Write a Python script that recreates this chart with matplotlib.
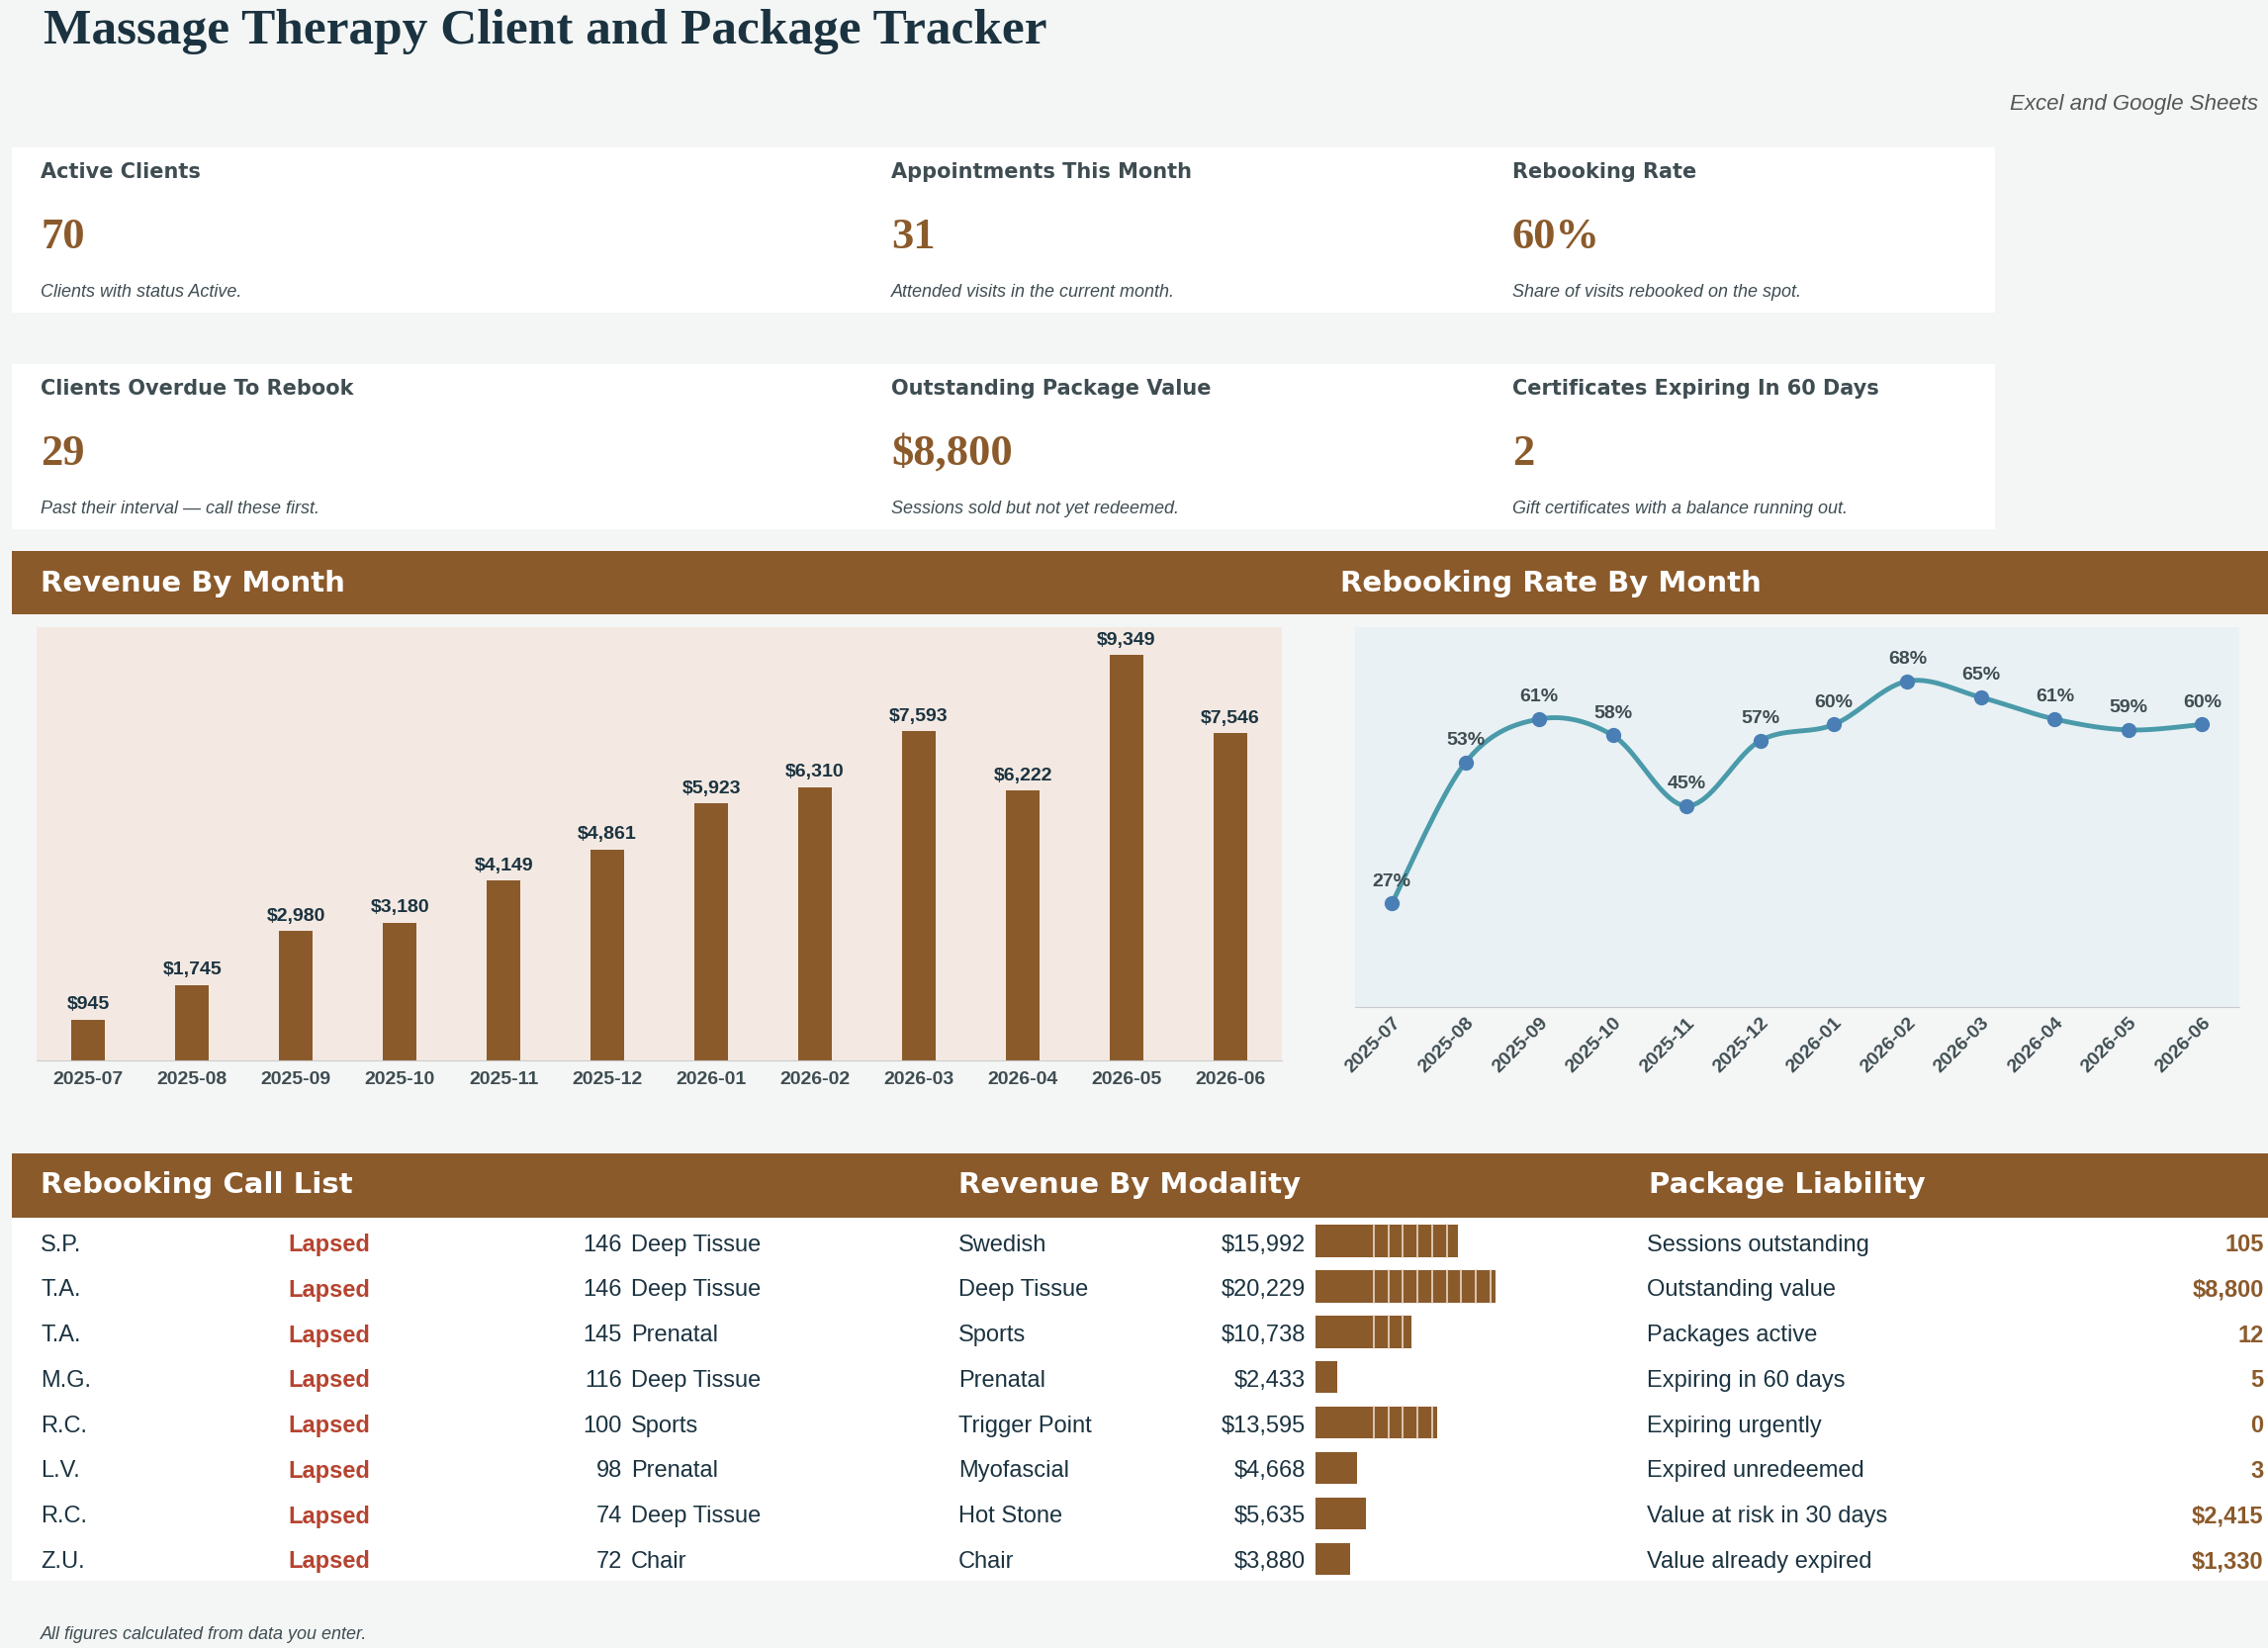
import matplotlib
matplotlib.use("Agg")
import matplotlib.pyplot as plt
from matplotlib.patches import Rectangle
import numpy as np

months = ["2025-07","2025-08","2025-09","2025-10","2025-11","2025-12","2026-01","2026-02","2026-03","2026-04","2026-05","2026-06"]
revenue = [945,1745,2980,3180,4149,4861,5923,6310,7593,6222,9349,7546]
rebook_rate = [27,53,61,58,45,57,60,68,65,61,59,60]

kpi_labels = ["Active Clients","Appointments This Month","Rebooking Rate",
              "Clients Overdue To Rebook","Outstanding Package Value","Certificates Expiring In 60 Days"]
kpi_values = ["70","31","60%","29","$8,800","2"]
kpi_descs = ["Clients with status Active.","Attended visits in the current month.","Share of visits rebooked on the spot.",
             "Past their interval \u2014 call these first.","Sessions sold but not yet redeemed.","Gift certificates with a balance running out."]

call_initials = ["S.P.","T.A.","T.A.","M.G.","R.C.","L.V.","R.C.","Z.U."]
call_status = ["Lapsed"]*8
call_days = [146,146,145,116,100,98,74,72]
call_modality = ["Deep Tissue","Deep Tissue","Prenatal","Deep Tissue","Sports","Prenatal","Deep Tissue","Chair"]

modalities = ["Swedish","Deep Tissue","Sports","Prenatal","Trigger Point","Myofascial","Hot Stone","Chair"]
modality_rev = [15992,20229,10738,2433,13595,4668,5635,3880]

liab_labels = ["Sessions outstanding","Outstanding value","Packages active","Expiring in 60 days",
               "Expiring urgently","Expired unredeemed","Value at risk in 30 days","Value already expired"]
liab_values = ["105","$8,800","12","5","0","3","$2,415","$1,330"]

BROWN = "#8b5a2b"; DARK = "#1b3340"; GRAY = "#3f4d52"; RED = "#b5432f"; BG = "#f4f6f5"
W, H = 1560.0, 1133.0
fig = plt.figure(figsize=(22.93, 16.66), dpi=100)
fig.patch.set_facecolor(BG)
def fx(x): return x / W
def fy(y): return 1 - y / H
def rect(x0, y0, x1, y1, c):
    fig.add_artist(Rectangle((fx(x0), fy(y1)), fx(x1) - fx(x0), fy(y0) - fy(y1), transform=fig.transFigure, color=c, lw=0, zorder=0))
def txt(x, y, s, **kw):
    kw.setdefault("va", "center")
    fig.text(fx(x), fy(y), s, **kw)

serif = ["Liberation Serif", "DejaVu Serif"]
sans = ["Liberation Sans", "DejaVu Sans"]
txt(30, 22, "Massage Therapy Client and Package Tracker", family=serif, weight="bold", size=37, color=DARK)
txt(1553, 72, "Excel and Google Sheets", family=sans, style="italic", size=16, color="#555", ha="right")

# KPI
rect(8, 101, 1372, 215, "white"); rect(8, 250, 1372, 364, "white")
kx = [28, 613, 1040]
for i in range(6):
    r, c = divmod(i, 3)
    oy = r * 149
    txt(kx[c], 118 + oy, kpi_labels[i], family=["DejaVu Sans"], weight="bold", size=15, color=GRAY)
    txt(kx[c], 163 + oy, kpi_values[i], family=serif, weight="bold", size=32, color=BROWN)
    txt(kx[c], 201 + oy, kpi_descs[i], family=sans, style="italic", size=13, color=GRAY)

# chart headers
rect(8, 379, 1560, 422, BROWN)
txt(28, 401, "Revenue By Month", family=["DejaVu Sans"], weight="bold", size=21, color="white")
txt(922, 401, "Rebooking Rate By Month", family=["DejaVu Sans"], weight="bold", size=21, color="white")

# bar chart
ax = fig.add_axes([fx(25), fy(729), fx(882) - fx(25), fy(431) - fy(729)])
ax.set_facecolor("#f3e9e2")
x = np.arange(len(months))
ax.bar(x, revenue, width=0.32, color=BROWN)
for xi, v in zip(x, revenue):
    ax.text(xi, v + 150, f"${v:,}", ha="center", va="bottom", family=sans, weight="bold", size=14, color=DARK)
ax.set_ylim(0, 9349 * 1.07); ax.set_xlim(-0.5, 11.5)
ax.set_yticks([]); ax.set_xticks(x); ax.set_xticklabels(months, family=sans, weight="bold", size=14, color=GRAY)
ax.tick_params(axis="x", length=0, pad=8)
for s in ["top", "left", "right"]: ax.spines[s].set_visible(False)
ax.spines["bottom"].set_color("#cccccc")

# line chart
ax2 = fig.add_axes([fx(932), fy(692), fx(1540) - fx(932), fy(431) - fy(692)])
ax2.set_facecolor("#e9f1f4")
y = np.array(rebook_rate, float)
# Catmull-Rom smoothing through the data points
pts = np.column_stack([x, y])
P = np.vstack([pts[0], pts, pts[-1]])
xs, ys = [], []
for i in range(1, len(P) - 2):
    p0, p1, p2, p3 = P[i-1], P[i], P[i+1], P[i+2]
    for t in np.linspace(0, 1, 20):
        q = 0.5 * ((2*p1) + (-p0+p2)*t + (2*p0-5*p1+4*p2-p3)*t**2 + (-p0+3*p1-3*p2+p3)*t**3)
        xs.append(q[0]); ys.append(q[1])
ax2.plot(xs, ys, color="#4a9aaa", lw=3.5)
ax2.plot(x, y, "o", color="#4a7fb5", ms=10)
for xi, v in zip(x, y):
    ax2.text(xi, v + 2.5, f"{int(v)}%", ha="center", va="bottom", family=sans, weight="bold", size=14, color=GRAY)
ax2.set_xlim(-0.5, 11.5); ax2.set_ylim(8, 78)
ax2.set_yticks([]); ax2.set_xticks(x)
ax2.set_xticklabels(months, rotation=45, ha="right", rotation_mode="anchor", family=sans, weight="bold", size=14, color=GRAY)
ax2.tick_params(axis="x", length=0, pad=6)
for s in ["top", "left", "right"]: ax2.spines[s].set_visible(False)
ax2.spines["bottom"].set_color("#cccccc")

# bottom tables
rect(8, 793, 1560, 837, BROWN)
rect(8, 837, 1560, 1087, "white")
txt(28, 815, "Rebooking Call List", family=["DejaVu Sans"], weight="bold", size=21, color="white")
txt(659, 815, "Revenue By Modality", family=["DejaVu Sans"], weight="bold", size=21, color="white")
txt(1134, 815, "Package Liability", family=["DejaVu Sans"], weight="bold", size=21, color="white")
rows = [856 + 31.1 * i for i in range(8)]
fs = 17
for i, ry in enumerate(rows):
    txt(28, ry, call_initials[i], family=sans, size=fs, color=DARK)
    txt(198, ry, call_status[i], family=sans, size=fs, weight="bold", color=RED)
    txt(428, ry, str(call_days[i]), family=sans, size=fs, color=DARK, ha="right")
    txt(434, ry, call_modality[i], family=sans, size=fs, color=DARK)
    txt(659, ry, modalities[i], family=sans, size=fs, color=DARK)
    txt(898, ry, f"${modality_rev[i]:,}", family=sans, size=fs, color=DARK, ha="right")
    txt(1133, ry, liab_labels[i], family=sans, size=fs, color=DARK)
    txt(1557, ry, liab_values[i], family=sans, size=fs, weight="bold", color=BROWN, ha="right")

ax3 = fig.add_axes([fx(905), fy(1090), fx(1105) - fx(905), fy(840) - fy(1090)])
ax3.set_axis_off()
ax3.set_xlim(0, 20229 * 200 / 124); ax3.set_ylim(8 * 31.1 + 3, 3)
yb = [r - 840 for r in rows]
ax3.barh(yb, modality_rev, height=22, color=BROWN)
seg0, seg = 20229 * 40 / 124, 20229 * 10 / 124
for v, yy in zip(modality_rev, yb):
    p = seg0
    while p < v - 1:
        ax3.plot([p, p], [yy - 11, yy + 11], color="#e8d8c8", lw=1.2)
        p += seg

txt(28, 1124, "All figures calculated from data you enter.", family=sans, style="italic", size=13, color=GRAY)
fig.savefig("out.png", dpi=100, facecolor=BG)
